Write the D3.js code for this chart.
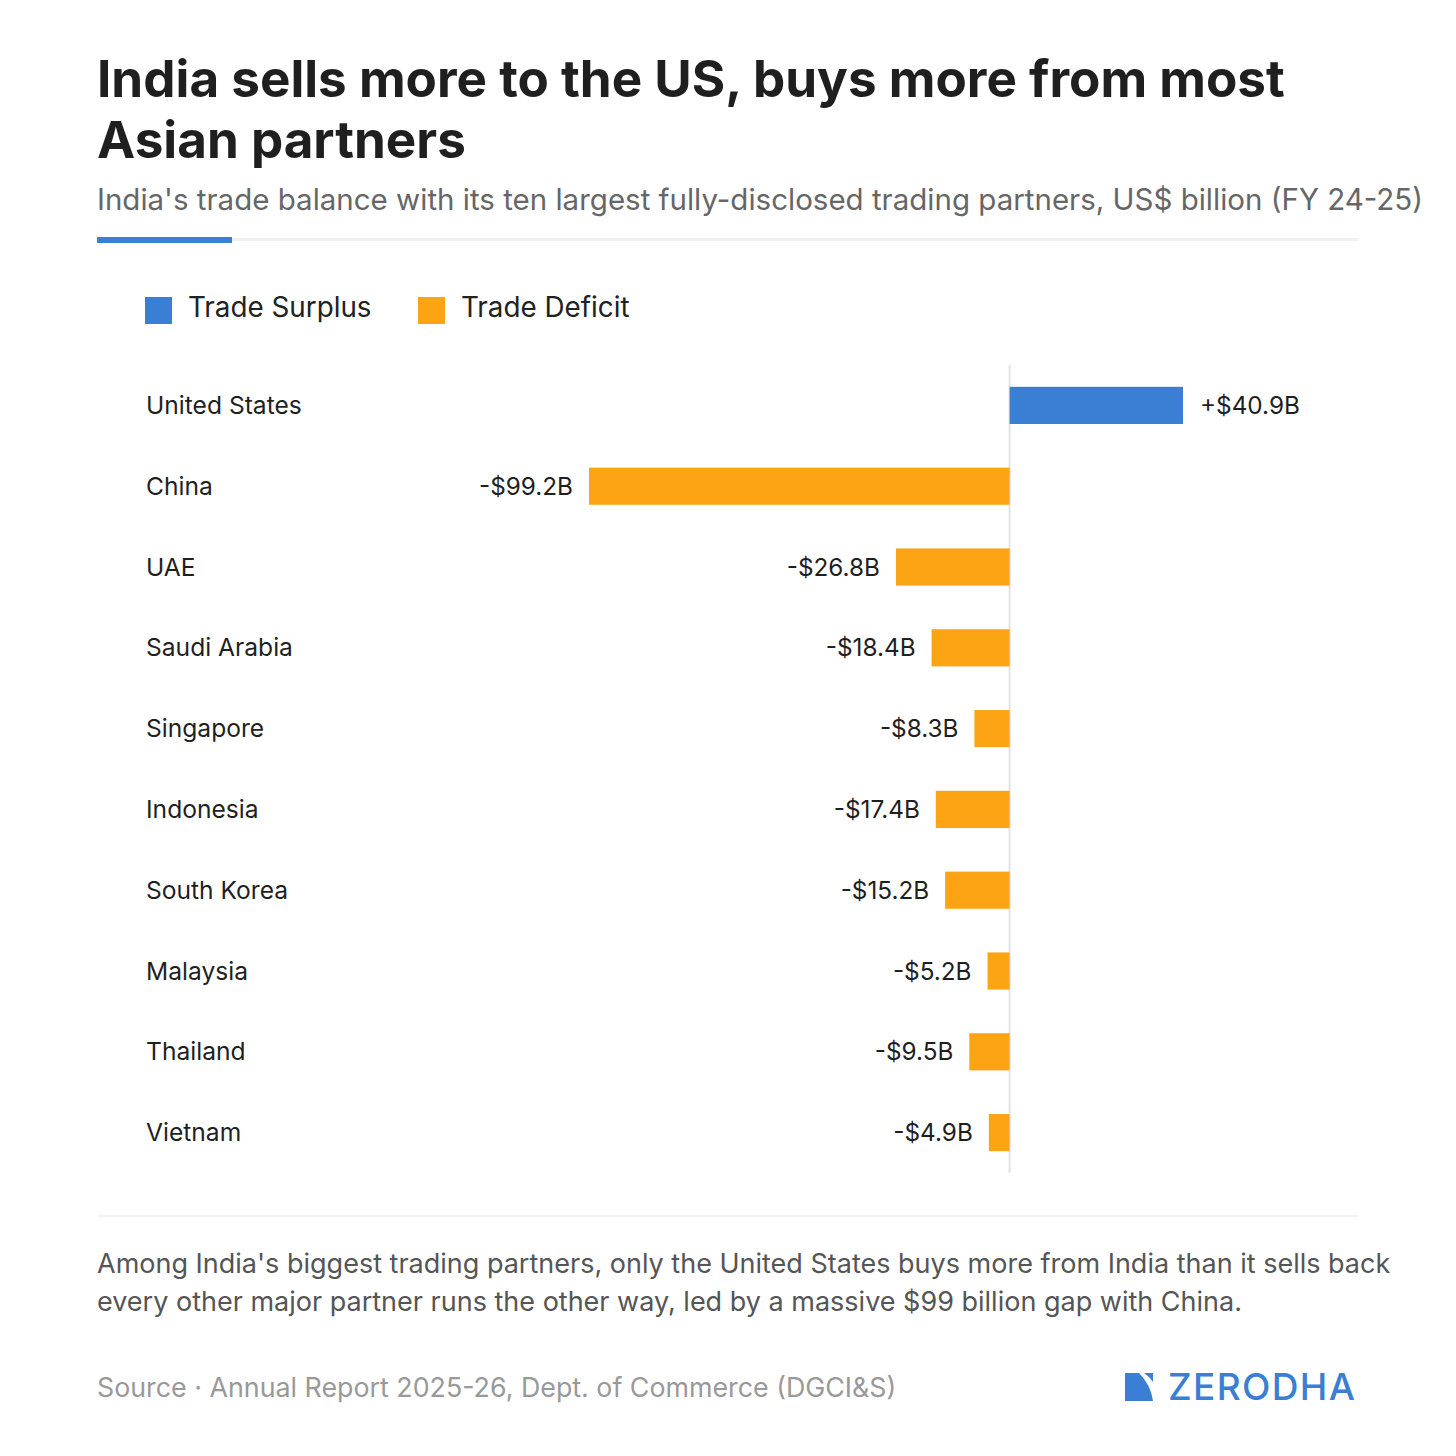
<!DOCTYPE html>
<html><head><meta charset="utf-8">
<script src="https://cdn.jsdelivr.net/npm/d3@7"></script>
<style>
html,body{margin:0;padding:0;background:#fff;}
svg{display:block;font-family:Inter,"Noto Sans",sans-serif;}
</style></head>
<body>
<svg id="chart" width="1456" height="1456"></svg>
<script>
const countries = ["United States","China","UAE","Saudi Arabia","Singapore","Indonesia","South Korea","Malaysia","Thailand","Vietnam"];
const balances = [40.9,-99.2,-26.8,-18.4,-8.3,-17.4,-15.2,-5.2,-9.5,-4.9];
const valueLabels = ["+$40.9B","-$99.2B","-$26.8B","-$18.4B","-$8.3B","-$17.4B","-$15.2B","-$5.2B","-$9.5B","-$4.9B"];
const legendItems = ["Trade Surplus","Trade Deficit"];

const svg = d3.select("#chart");
const BLUE = "#3a7fd3", ORANGE = "#fda414";

// Title
const title = svg.append("text").attr("x",97).attr("fill","#1f1f1f")
  .attr("font-size",51.2).attr("font-weight",700);
title.append("tspan").attr("x",97).attr("y",97).text("India sells more to the US, buys more from most");
title.append("tspan").attr("x",97).attr("y",158).text("Asian partners");

svg.append("text").attr("x",97).attr("y",210).attr("fill","#666").attr("font-size",29.5)
  .text("India's trade balance with its ten largest fully-disclosed trading partners, US$ billion (FY 24-25)");

svg.append("rect").attr("x",97).attr("y",238).attr("width",1261).attr("height",3).attr("fill","#f0f0f0");
svg.append("rect").attr("x",97).attr("y",237).attr("width",135).attr("height",6).attr("fill",BLUE);

// Legend
const lg = svg.append("g");
const lx = [145, 418];
legendItems.forEach((t,i)=>{
  lg.append("rect").attr("x",lx[i]).attr("y",297).attr("width",27).attr("height",27).attr("fill",i?ORANGE:BLUE);
  lg.append("text").attr("x",lx[i]+43).attr("y",317).attr("font-size",27.8).attr("fill","#222").text(t);
});

// Scales
const x = d3.scaleLinear().domain([-99.2,40.9]).range([589,1183]);
const y = d3.scaleBand().domain(countries).range([365,1173]).paddingInner(0.54).paddingOuter(0.27);

const g = svg.append("g");
g.append("line").attr("x1",x(0)).attr("x2",x(0)).attr("y1",365).attr("y2",1173)
  .attr("stroke","#e2e2e2").attr("stroke-width",2);

const data = countries.map((c,i)=>({c, v:balances[i], l:valueLabels[i]}));

g.selectAll("rect.bar").data(data).join("rect").attr("class","bar")
  .attr("x",d=>x(Math.min(0,d.v))).attr("width",d=>Math.abs(x(d.v)-x(0)))
  .attr("y",d=>y(d.c)).attr("height",y.bandwidth())
  .attr("fill",d=>d.v>=0?BLUE:ORANGE);

g.selectAll("text.cat").data(data).join("text").attr("class","cat")
  .attr("x",146).attr("y",d=>y(d.c)+y.bandwidth()/2).attr("dy","0.35em")
  .attr("font-size",24.6).attr("fill","#1f1f1f").text(d=>d.c);

g.selectAll("text.val").data(data).join("text").attr("class","val")
  .attr("x",d=>d.v>=0? x(d.v)+17 : x(d.v)-16)
  .attr("text-anchor",d=>d.v>=0?"start":"end")
  .attr("y",d=>y(d.c)+y.bandwidth()/2).attr("dy","0.35em")
  .attr("font-size",24.3).attr("fill","#1f1f1f").text(d=>d.l);

// Bottom
svg.append("rect").attr("x",97).attr("y",1215).attr("width",1261).attr("height",2).attr("fill","#f3f3f3");
const cap = svg.append("text").attr("fill","#555").attr("font-size",27);
cap.append("tspan").attr("x",97).attr("y",1273).text("Among India's biggest trading partners, only the United States buys more from India than it sells back");
cap.append("tspan").attr("x",97).attr("y",1311).text("every other major partner runs the other way, led by a massive $99 billion gap with China.");

svg.append("text").attr("x",97).attr("y",1397).attr("fill","#999").attr("font-size",26.8)
  .text("Source · Annual Report 2025-26, Dept. of Commerce (DGCI&S)");

// Logo
const logo = svg.append("g").attr("transform","translate(1125,1373)");
logo.append("path").attr("d","M0,0 L14,0 Q26,12 28,28 L0,28 Z").attr("fill",BLUE);
logo.append("path").attr("d","M19,0 L28,0 L28,9 Q25,4 19,0 Z").attr("fill",BLUE);
svg.append("text").attr("x",1168).attr("y",1400).attr("fill",BLUE).attr("font-size",37)
  .attr("font-weight",500).attr("textLength",187).attr("lengthAdjust","spacing").text("ZERODHA");
</script>
</body></html>
